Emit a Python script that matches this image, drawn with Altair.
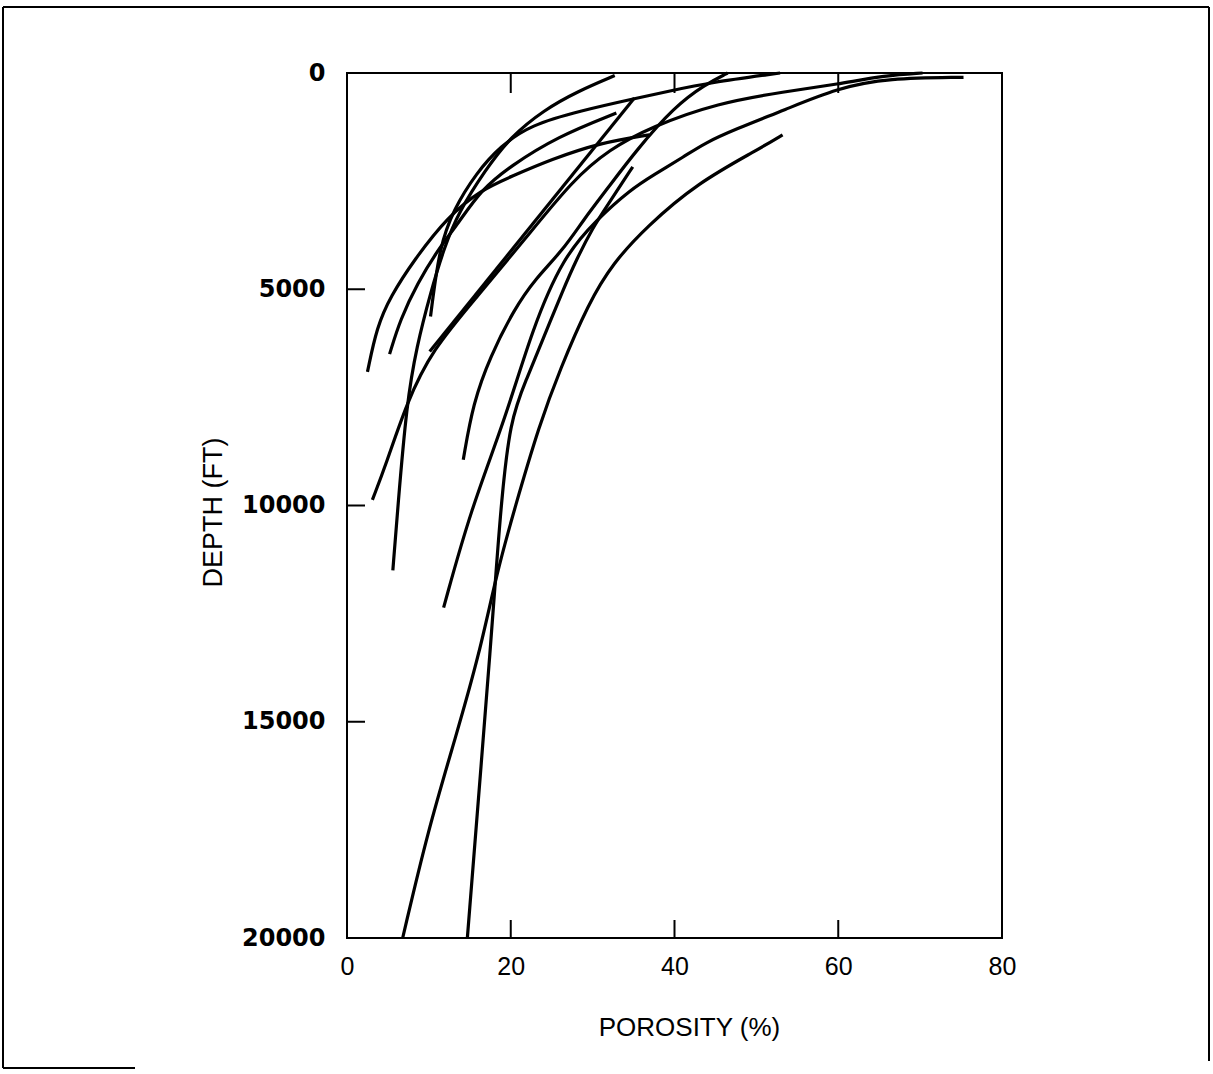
import altair as alt
import pandas as pd

# ---- curve data: porosity (%) and depth (ft) ----
a_porosity = [32.7, 28.1, 24.1, 20.0, 16.9, 13.6, 11.9, 10.2, 8.5, 7.3, 6.2, 5.6]
a_depth = [60, 430, 850, 1470, 2240, 3230, 4020, 5080, 6330, 7620, 10050, 11500]

b_porosity = [32.9, 25.7, 19.9, 16.4, 13.6, 11.1, 8.6, 6.5, 5.2]
b_depth = [925, 1470, 2160, 2700, 3470, 4090, 4860, 5700, 6500]

c_porosity = [52.9, 44.1, 39.8, 35.1, 28.6, 22.4, 18.7, 15.8, 13.0, 11.3, 10.2]
c_depth = [0, 230, 400, 595, 870, 1200, 1700, 2310, 3160, 4010, 5630]

p_porosity = [36.9, 31.0, 24.9, 20.0, 16.4, 12.3, 8.2, 5.3, 3.65, 2.5]
p_depth = [1430, 1610, 2000, 2400, 2700, 3320, 4320, 5170, 5870, 6910]

s_porosity = [35.1, 10.1]
s_depth = [580, 6440]

d_porosity = [70.3, 65.8, 59.9, 53.5, 45.3, 37.2, 32.0, 27.6, 21.7, 15.9, 10.4, 7.3, 4.75, 3.1]
d_depth = [0, 55, 260, 430, 690, 1240, 1770, 2470, 3850, 5170, 6400, 7620, 9060, 9870]

e_porosity = [46.5, 43.7, 40.0, 35.4, 31.7, 28.9, 26.4, 22.9, 20.4, 17.5, 15.4, 14.2]
e_depth = [0, 270, 780, 1770, 2700, 3390, 4090, 4780, 5470, 6550, 7630, 8940]

f_porosity = [75.3, 66.1, 59.9, 53.5, 47.3, 43.7, 41.2, 37.5, 34.6, 30.5, 26.4, 22.6, 19.3, 15.1, 11.8]
f_depth = [100, 120, 350, 850, 1310, 1620, 1930, 2350, 2700, 3390, 4250, 5930, 8020, 10100, 12360]

v_porosity = [34.9, 31.7, 30.1, 28.0, 26.4, 23.9, 21.9, 19.9, 18.8, 18.2, 17.5, 16.5, 14.7]
v_depth = [2170, 3090, 3550, 4320, 5010, 6170, 7090, 8020, 10030, 11550, 13330, 15720, 20000]

r_porosity = [53.2, 50.2, 42.8, 36.6, 32.5, 29.5, 26.0, 23.5, 20.5, 18.3, 16.2, 13.3, 9.9, 6.8]
r_depth = [1430, 1770, 2540, 3550, 4390, 5320, 6860, 8130, 10050, 11550, 13410, 15340, 17500, 20000]

x_ticks = [0, 20, 40, 60, 80]
y_ticks = [0, 5000, 10000, 15000, 20000]
x_inner_ticks = [20, 40, 60]
y_inner_ticks = [5000, 10000, 15000]

series = {
    "A": (a_porosity, a_depth), "B": (b_porosity, b_depth), "C": (c_porosity, c_depth),
    "P": (p_porosity, p_depth), "S": (s_porosity, s_depth), "D": (d_porosity, d_depth),
    "E": (e_porosity, e_depth), "F": (f_porosity, f_depth), "V": (v_porosity, v_depth),
    "R": (r_porosity, r_depth),
}
rows = []
for name, (por, dep) in series.items():
    for i, (p, d) in enumerate(zip(por, dep)):
        rows.append({"curve": name, "idx": i, "porosity": p, "depth": d})
df = pd.DataFrame(rows)

W, H = 655, 865
xscale = alt.Scale(domain=[0, 80], nice=False, zero=False)
yscale = alt.Scale(domain=[0, 20000], nice=False, reverse=True)
FONT = "Liberation Sans"

lines = alt.Chart(df).mark_line(color="black", strokeWidth=3.2, interpolate="basis").encode(
    x=alt.X("porosity:Q", scale=xscale,
            axis=alt.Axis(values=x_ticks, title="POROSITY (%)", grid=False, domain=False,
                          ticks=False, tickSize=0, labelPadding=16, labelFlush=False,
                          labelFontSize=25, labelFont=FONT, labelColor="black",
                          titleFont=FONT, titleFontSize=26, titleFontWeight="normal",
                          titleColor="black", titleX=342, titleY=89,
                          titleBaseline="middle", titleAlign="center")),
    y=alt.Y("depth:Q", scale=yscale,
            axis=alt.Axis(values=y_ticks, format="d", title="DEPTH (FT)", grid=False,
                          domain=False, ticks=False, tickSize=0, labelPadding=22,
                          labelFlush=False, labelFontSize=24, labelFont="DejaVu Sans",
                          labelFontWeight="bold", labelColor="black",
                          titleFont=FONT, titleFontSize=27, titleFontWeight="normal",
                          titleColor="black", titleX=-134, titleY=439,
                          titleBaseline="middle", titleAlign="center", titleAngle=270)),
    detail="curve:N",
    order="idx:Q",
)

xt = pd.DataFrame({"porosity": x_inner_ticks})
yt = pd.DataFrame({"depth": y_inner_ticks})
bottom_ticks = alt.Chart(xt).mark_rule(color="black", strokeWidth=2).encode(
    x=alt.X("porosity:Q", scale=xscale), y=alt.value(H), y2=alt.value(H - 18))
top_ticks = alt.Chart(xt).mark_rule(color="black", strokeWidth=2).encode(
    x=alt.X("porosity:Q", scale=xscale), y=alt.value(0), y2=alt.value(20))
left_ticks = alt.Chart(yt).mark_rule(color="black", strokeWidth=2).encode(
    y=alt.Y("depth:Q", scale=yscale), x=alt.value(0), x2=alt.value(18))

one = pd.DataFrame({"k": [0]})
frame_top = alt.Chart(one).mark_rule(color="black", strokeWidth=2).encode(
    x=alt.value(-344), x2=alt.value(862), y=alt.value(-66))
frame_left = alt.Chart(one).mark_rule(color="black", strokeWidth=2).encode(
    x=alt.value(-344), y=alt.value(-66), y2=alt.value(995))
frame_right = alt.Chart(one).mark_rule(color="black", strokeWidth=2).encode(
    x=alt.value(862), y=alt.value(-66), y2=alt.value(988))
frame_bottom = alt.Chart(one).mark_rule(color="black", strokeWidth=2).encode(
    x=alt.value(-344), x2=alt.value(-212), y=alt.value(995))

chart = alt.layer(
    lines, bottom_ticks, top_ticks, left_ticks,
    frame_top, frame_left, frame_right, frame_bottom,
).properties(
    width=W, height=H, padding={"left": 2, "top": 6, "right": 0, "bottom": 0},
    background="white",
).configure_view(stroke="black", strokeWidth=2)

chart.save("out.html", embed_options={"renderer": "svg", "actions": False})
